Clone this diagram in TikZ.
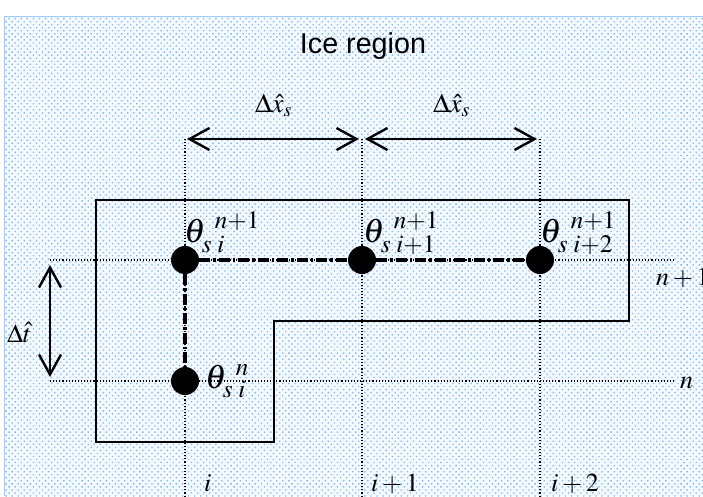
\documentclass[tikz,border=0pt]{standalone}
\usepackage{mathptmx}
\usepackage[no-math]{fontspec}
\setmainfont{Liberation Serif}
\newfontfamily\arial{Liberation Sans}
\usetikzlibrary{arrows.meta,patterns.meta}
\definecolor{dotblue}{RGB}{125,185,245}
\definecolor{paleblue}{RGB}{244,249,255}
\definecolor{frameblue}{RGB}{160,202,250}
\tikzset{
  gridline/.style={line width=1.1pt, dash pattern=on 1.1pt off 2pt},
  chainline/.style={line width=3.2pt, dash pattern=on 11pt off 3pt on 2.5pt off 3pt},
  gpt/.style={circle, fill=black, minimum size=28pt, inner sep=0pt},
  dimarrow/.style={line width=2.4pt, {Straight Barb[length=20pt,width=22pt]}-{Straight Barb[length=20pt,width=22pt]}},
  thlab/.style={anchor=base west, inner sep=0pt, font=\fontsize{34}{38}\selectfont},
  idxlab/.style={anchor=base west, inner sep=0pt, font=\fontsize{26}{30}\selectfont},
  dlab/.style={anchor=base west, inner sep=0pt, font=\fontsize{27}{30}\selectfont},
  regionline/.style={line width=2pt},
}
\begin{document}
\begin{tikzpicture}[x=1pt,y=-1pt]
\useasboundingbox (0,0) rectangle (703,496);
\fill[white] (0,0) rectangle (703,496);
\fill[paleblue] (5,17) rectangle (703,496);
\fill[pattern={Dots[distance=4.3pt,angle=45,radius=0.95pt]}, pattern color=dotblue] (5,17) rectangle (703,496);
\draw[frameblue, line width=1.5pt] (4.5,496) -- (4.5,16.5) -- (703,16.5);

% title
\node[anchor=base, inner sep=0pt, font=\arial\fontsize{28.7}{32}\selectfont] (title) at (363,53) {Ice region};

% ice region outline
\draw[regionline] (96,200) -- (629,200) -- (629,321) -- (274,321) -- (274,442) -- (96,442) -- cycle;

% grid coordinates
\coordinate (hAa) at (50,260);  \coordinate (hAb) at (675,260);
\coordinate (hBa) at (50,381);  \coordinate (hBb) at (675,381);
\coordinate (v1a) at (185,139); \coordinate (v1b) at (185,496);
\coordinate (v2a) at (362,139); \coordinate (v2b) at (362,496);
\coordinate (v3a) at (540,139); \coordinate (v3b) at (540,496);
\draw[gridline] (hAa) -- (hAb);
\draw[gridline] (hBa) -- (hBb);
\draw[gridline] (v1a) -- (v1b);
\draw[gridline] (v2a) -- (v2b);
\draw[gridline] (v3a) -- (v3b);

% dimension arrows
\coordinate (a1) at (187,139); \coordinate (a2) at (359,139);
\coordinate (a3) at (365,139); \coordinate (a4) at (537,139);
\coordinate (t1) at (50,265);  \coordinate (t2) at (50,377);
\draw[dimarrow] (a1) -- (a2);
\draw[dimarrow] (a3) -- (a4);
\draw[dimarrow] (t1) -- (t2);
\node[dlab] (dx1) at (255,112) {$\Delta\hat{x}_{s}$};
\node[dlab] (dx2) at (433,112) {$\Delta\hat{x}_{s}$};
\node[idxlab] (dt) at (7,342) {$\Delta\hat{t}$};

% grid points
\node[gpt] (d1) at (185,260) {};
\node[gpt] (d2) at (362,260) {};
\node[gpt] (d3) at (540,260) {};
\node[gpt] (d4) at (185,381) {};
\draw[chainline] (d1) -- (d2);
\draw[chainline] (d2) -- (d3);
\draw[chainline] (d1) -- (d4);

% point labels
\node[thlab] (l1) at (184,242) {$\theta_{s\;i}^{\hspace{9pt}n+1}$};
\node[thlab] (l2) at (363,242) {$\theta_{s\;i+1}^{\hspace{9pt}n+1}$};
\node[thlab] (l3) at (540,242) {$\theta_{s\;i+2}^{\hspace{9pt}n+1}$};
\node[thlab] (l4) at (205,388) {$\theta_{s\;i}^{\hspace{9pt}n}$};

% index labels
\node[idxlab] (rn1) at (656,285) {$n+1$};
\node[idxlab] (rn)  at (680,388) {$n$};
\node[idxlab] (ci)  at (204,491) {$i$};
\node[idxlab] (ci1) at (371,491) {$i+1$};
\node[idxlab] (ci2) at (551,491) {$i+2$};
\end{tikzpicture}
\end{document}
